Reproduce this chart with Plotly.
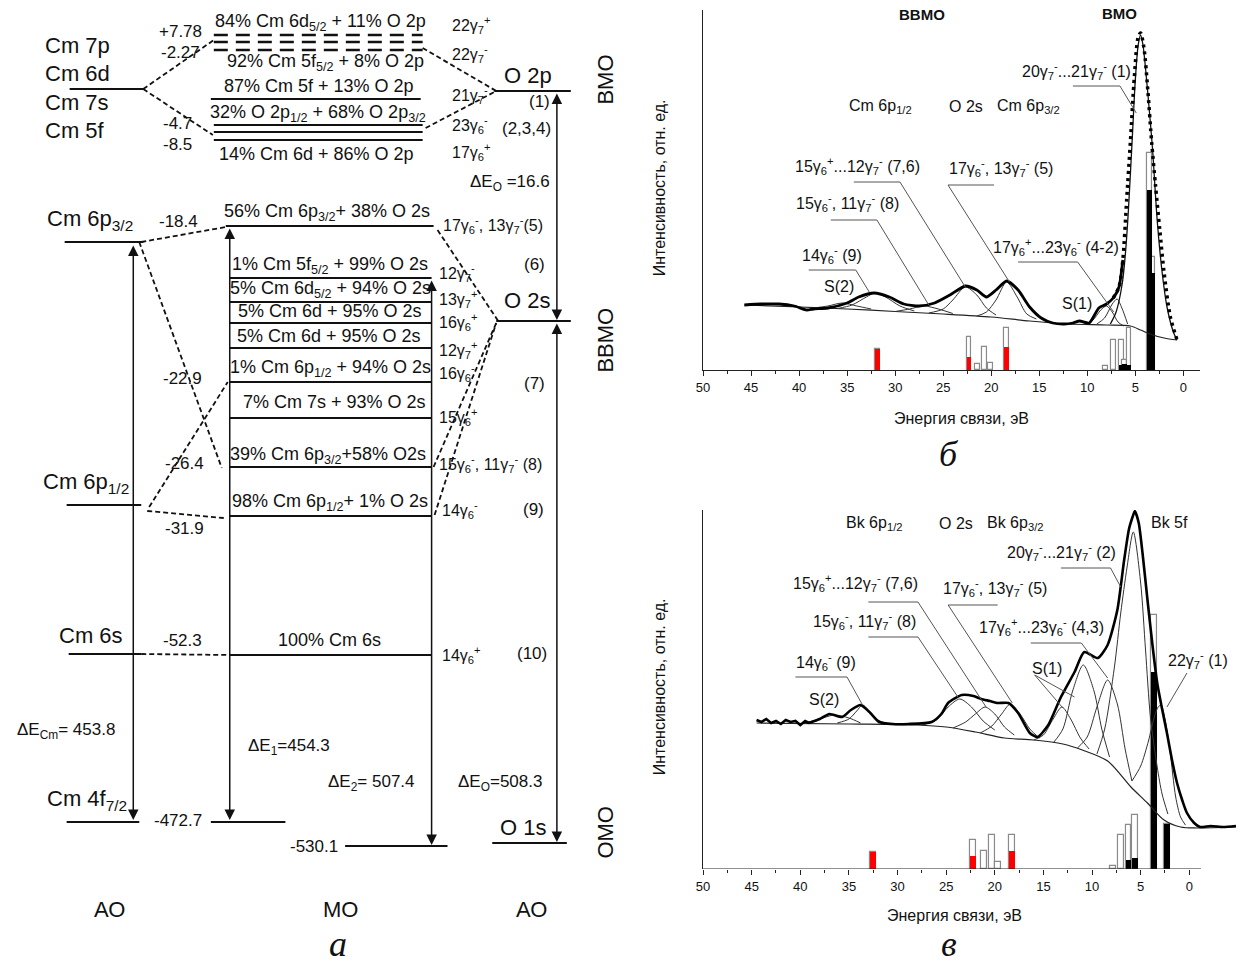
import plotly.graph_objects as go

W, H = 1243, 968
SANS = "Liberation Sans"
SERIF = "Liberation Serif"

# ======================= Panel б : CmO2 spectrum =======================
b_exp_e = [45.7, 44.0, 42.1, 40.5, 39.2, 38.5, 37.0, 35.0, 33.8, 32.2, 30.6, 29.1, 27.5, 25.9, 24.3,
           22.7, 21.5, 20.5, 19.5, 18.4, 17.2, 16.0, 14.8, 13.6, 12.4, 11.5, 10.8, 9.8, 8.8, 8.0,
           7.3, 6.7, 6.3, 5.9, 5.5, 5.1, 4.7, 4.45, 4.1, 3.7, 3.3, 2.9, 2.45, 2.0, 1.35, 0.65]
b_exp_i = [65, 66, 66, 64, 60, 61, 62, 67, 73, 77, 73, 66, 64, 67, 75,
           84, 80, 73, 80, 89, 80, 63, 52, 47, 46, 47, 49, 47, 62, 66,
           72, 83, 110, 170, 230, 293, 333, 337, 322, 280, 228, 185, 140, 97, 53, 30]
b_bg_e = [45.7, 40.0, 35.0, 30.0, 25.0, 20.0, 16.0, 12.0, 8.0, 5.5, 4.45, 3.5, 2.0, 0.65]
b_bg_i = [65, 63, 61, 58.5, 56, 53, 49, 46, 45, 44, 40, 36, 32, 30]
b_main_e = [7.6, 7.0, 6.35, 6.0, 5.7, 5.3, 5.0, 4.7, 4.45, 4.2, 3.9, 3.5, 3.2, 2.7, 2.2, 1.7, 1.0, 0.65]
b_main_i = [46, 58, 87, 120, 163, 235, 290, 325, 335, 325, 298, 255, 220, 147, 97, 63, 37, 30]
b_s2_e = [38.5, 37.0, 35.5, 34.0, 32.5]
b_s2_i = [62, 64, 67, 64, 61]
b_p9_e = [36.0, 34.5, 33.0, 32.1, 31.0, 29.5, 28.0]
b_p9_i = [61.5, 65, 73, 77, 73, 64, 59]
b_p8_e = [30.0, 28.5, 27.0, 25.5, 24.0]
b_p8_i = [58.5, 61, 64, 61, 56.5]
b_p76_e = [26.5, 25.0, 24.0, 22.7, 21.5, 20.5, 19.5]
b_p76_i = [57, 61, 70, 83, 75, 62, 55]
b_p5_e = [21.5, 20.5, 19.5, 18.4, 17.3, 16.3, 15.3]
b_p5_i = [54, 58, 70, 88, 73, 56, 51]
b_p42_e = [10.5, 9.5, 8.6, 8.0, 7.4, 6.8, 6.2]
b_p42_i = [45.5, 49, 60, 64, 58, 48, 44]
b_s1_e = [9.0, 8.2, 7.4, 6.9, 6.4, 5.8]
b_s1_i = [46, 52, 66, 71, 62, 46]
b_bar_e = [31.8, 22.3, 21.4, 20.7, 20.1, 18.4, 8.1, 7.3, 6.45, 6.1, 5.65, 3.5, 3.2]
b_bar_total = [21, 33, 6, 23, 7, 42, 4, 30, 30, 10, 42, 217, 113]
b_bar_fill = [21, 13, 0, 0, 0, 23, 0, 0, 5, 6, 5, 180, 97]
b_bar_kind = ["red", "red", "open", "open", "open", "red", "open", "open",
              "black", "black", "black", "black", "black"]
b_labels = ["<b>ВВМО</b>", "<b>ВМО</b>",
            "20γ<sub>7</sub><sup>-</sup>...21γ<sub>7</sub><sup>-</sup> (1)",
            "Cm 6p<sub>1/2</sub>", "O 2s", "Cm 6p<sub>3/2</sub>",
            "15γ<sub>6</sub><sup>+</sup>...12γ<sub>7</sub><sup>-</sup> (7,6)",
            "17γ<sub>6</sub><sup>-</sup>, 13γ<sub>7</sub><sup>-</sup> (5)",
            "15γ<sub>6</sub><sup>-</sup>, 11γ<sub>7</sub><sup>-</sup> (8)",
            "17γ<sub>6</sub><sup>+</sup>...23γ<sub>6</sub><sup>-</sup> (4-2)",
            "14γ<sub>6</sub><sup>-</sup> (9)", "S(2)", "S(1)"]

# ======================= Panel в : BkO2 spectrum =======================
c_exp_e = [44.5, 44.0, 43.5, 43.0, 42.5, 42.0, 41.5, 41.0, 40.5, 40.0,
           39.5, 39.1, 38.0, 37.0, 35.7, 34.8, 33.8, 32.8, 31.9, 30.5,
           28.9, 26.5, 25.5, 24.8, 23.4, 22.2, 21.4, 20.5, 19.7, 18.6,
           17.6, 16.4, 15.6, 14.5, 13.2, 11.8, 10.8, 9.4, 8.4, 7.4,
           6.7, 6.2, 5.8, 5.6, 5.2, 4.8, 4.3, 3.8, 3.3, 2.8,
           2.3, 1.8, 1.26, 0.7, 0.24, -0.5, -1.1, -2.2, -3.5, -4.8]
c_exp_i = [149, 147, 150, 146, 148, 145, 149, 147, 148, 144,
           148, 146, 150, 155, 152, 159, 164, 156, 147, 145,
           145, 147, 155, 166, 174, 173, 170, 168, 166, 166,
           156, 136, 132, 144, 172, 197, 217, 211, 224, 259,
           309, 340, 353, 358, 346, 315, 269, 225, 186, 160,
           136, 110, 86, 68, 56, 46, 42, 43, 42, 43]
c_bg_e = [44.5, 35.0, 28.0, 25.0, 22.0, 19.0, 16.0, 13.0, 11.0, 8.4, 6.0, 4.3, 2.6, 0.9, -0.8, -4.8]
c_bg_i = [146, 145, 144, 142, 137, 131, 129, 125, 119, 108, 82, 66, 49, 42, 41, 42]
c_s2_e = [39.5, 38.0, 36.5, 35.0, 33.8]
c_s2_i = [146, 150, 154, 151, 146]
c_p9_e = [36.2, 35.0, 34.2, 33.6, 32.8, 32.0, 31.0]
c_p9_i = [146, 150, 158, 164, 157, 149, 145]
c_p8_e = [27.5, 26.0, 24.8, 23.6, 22.4, 21.2, 20.0]
c_p8_i = [144, 149, 162, 170, 162, 148, 139]
c_p76_e = [24.3, 23.0, 22.0, 21.0, 20.0, 19.0, 18.0]
c_p76_i = [141, 147, 155, 162, 155, 142, 134]
c_p5_e = [21.5, 20.3, 19.3, 18.4, 17.4, 16.4, 15.4]
c_p5_i = [136, 143, 155, 165, 155, 140, 131]
c_s1_e = [16.0, 15.0, 14.0, 13.1, 12.2, 11.2, 10.3]
c_s1_i = [129, 134, 150, 162, 150, 131, 120]
c_p4_e = [14.0, 13.0, 12.0, 10.9, 9.8, 9.0, 8.2]
c_p4_i = [126, 140, 178, 204, 178, 140, 112]
c_p3_e = [11.5, 10.5, 9.5, 8.4, 7.4, 6.6, 5.9]
c_p3_i = [121, 132, 162, 189, 165, 120, 88]
c_p2_e = [9.5, 8.7, 7.7, 7.05, 6.4, 5.76, 5.0, 4.5, 4.0, 3.3, 2.8, 2.2]
c_p2_i = [115, 140, 202, 256, 302, 337, 286, 219, 152, 102, 75, 55]
c_p1_e = [5.9, 5.0, 4.2, 3.6, 3.2, 2.9, 2.5, 2.0, 1.4, 0.9, 0.4]
c_p1_i = [88, 103, 128, 152, 162, 164, 150, 119, 72, 52, 44]
c_bar_e = [32.5, 22.2, 21.1, 20.3, 19.7, 18.2, 7.85, 7.05, 6.25, 5.55, 3.6, 2.3]
c_bar_total = [17, 29, 18, 34, 7, 34, 3, 34, 44, 54, 254, 45]
c_bar_fill = [17, 13, 0, 0, 0, 18, 0, 0, 9, 11, 197, 45]
c_bar_kind = ["red", "red", "open", "open", "open", "red", "open", "open",
              "black", "black", "black", "black"]
c_labels = ["<b>ВВМО</b>", "<b>ВМО</b>",
            "Bk 6p<sub>1/2</sub>", "O 2s", "Bk 6p<sub>3/2</sub>", "Bk 5f",
            "20γ<sub>7</sub><sup>-</sup>...21γ<sub>7</sub><sup>-</sup> (2)",
            "15γ<sub>6</sub><sup>+</sup>...12γ<sub>7</sub><sup>-</sup> (7,6)",
            "17γ<sub>6</sub><sup>-</sup>, 13γ<sub>7</sub><sup>-</sup> (5)",
            "15γ<sub>6</sub><sup>-</sup>, 11γ<sub>7</sub><sup>-</sup> (8)",
            "17γ<sub>6</sub><sup>+</sup>...23γ<sub>6</sub><sup>-</sup> (4,3)",
            "S(1)", "14γ<sub>6</sub><sup>-</sup> (9)", "S(2)",
            "22γ<sub>7</sub><sup>-</sup> (1)"]

tick_vals = [50, 45, 40, 35, 30, 25, 20, 15, 10, 5, 0]
minor_vals = [47.5, 42.5, 37.5, 32.5, 27.5, 22.5, 17.5, 12.5, 7.5, 2.5]

# ======================= Panel а : MO diagram texts =======================
ao_labels = ["Cm 7p", "Cm 6d", "Cm 7s", "Cm 5f", "Cm 6p<sub>3/2</sub>", "Cm 6p<sub>1/2</sub>",
             "Cm 6s", "Cm 4f<sub>7/2</sub>", "O 2p", "O 2s", "O 1s"]
mo_energies = ["+7.78", "-2.27", "-4.7", "-8.5", "-18.4", "-22.9", "-26.4", "-31.9",
               "-52.3", "-472.7", "-530.1"]
mo_compositions = ["84% Cm 6d<sub>5/2</sub> + 11% O 2p", "92% Cm 5f<sub>5/2</sub> + 8% O 2p",
                   "87% Cm 5f + 13% O 2p", "32% O 2p<sub>1/2</sub> + 68% O 2p<sub>3/2</sub>",
                   "14% Cm 6d + 86% O 2p", "56% Cm 6p<sub>3/2</sub>+ 38% O 2s",
                   "1% Cm 5f<sub>5/2</sub> + 99% O 2s", "5% Cm 6d<sub>5/2</sub> + 94% O 2s",
                   "5% Cm 6d + 95% O 2s", "5% Cm 6d + 95% O 2s",
                   "1% Cm 6p<sub>1/2</sub> + 94% O 2s", "7% Cm 7s + 93% O 2s",
                   "39% Cm 6p<sub>3/2</sub>+58% O2s", "98% Cm 6p<sub>1/2</sub>+ 1% O 2s",
                   "100% Cm 6s"]
mo_symmetry = ["22γ<sub>7</sub><sup>+</sup>", "22γ<sub>7</sub><sup>-</sup>", "21γ<sub>7</sub><sup>-</sup>",
               "23γ<sub>6</sub><sup>-</sup>", "17γ<sub>6</sub><sup>+</sup>",
               "17γ<sub>6</sub><sup>-</sup>, 13γ<sub>7</sub><sup>-</sup>(5)",
               "12γ<sub>7</sub><sup>-</sup>", "13γ<sub>7</sub><sup>+</sup>", "16γ<sub>6</sub><sup>+</sup>",
               "12γ<sub>7</sub><sup>+</sup>", "16γ<sub>6</sub><sup>-</sup>", "15γ<sub>6</sub><sup>+</sup>",
               "15γ<sub>6</sub><sup>-</sup>, 11γ<sub>7</sub><sup>-</sup> (8)",
               "14γ<sub>6</sub><sup>-</sup>", "14γ<sub>6</sub><sup>+</sup>"]
peak_numbers = ["(1)", "(2,3,4)", "(6)", "(7)", "(9)", "(10)"]
delta_labels = ["ΔE<sub>O</sub> =16.6", "ΔE<sub>Cm</sub>= 453.8", "ΔE<sub>1</sub>=454.3",
                "ΔE<sub>2</sub>= 507.4", "ΔE<sub>O</sub>=508.3"]
region_labels = ["ВМО", "ВВМО", "ОМО"]
column_labels = ["АО", "МО", "АО"]

# ---------------- schematic layout of panel а (pixel positions) ----------------
lay_ao = [(36, 45), (36, 73), (36, 102), (36, 130), (38, 220), (34, 483), (50, 635), (38, 800),
          (498, 75), (498, 300), (494, 827)]
lay_energy = [(198, 31), (196, 52), (188, 123), (188, 144), (194, 221), (198, 378), (200, 463),
              (200, 528), (198, 640), (198, 820), (335, 846)]
lay_comp = [(315, 22), (320, 62), (314, 86), (313, 113), (311, 154), (322, 212), (325, 265),
            (325, 289), (325, 311), (324, 336), (325, 368), (329, 402), (323, 455), (325, 502),
            (324, 640)]
lay_sym = [(446, 25), (446, 54), (446, 95), (446, 125), (446, 152), (436, 225), (432, 273),
           (432, 299), (432, 322), (432, 350), (432, 373), (432, 417), (432, 464), (435, 510),
           (435, 655)]
lay_peaknum = [(536, 101), (522, 128), (530, 264), (530, 383), (529, 509), (528, 653)]
lay_delta = [(464, 183), (8, 731), (240, 747), (321, 783), (452, 783)]
lay_region = [(601, 80), (601, 340), (601, 832)]
lay_column = [(103, 909), (335, 909), (527, 909)]
lay_levels = [(63, 137, 89), (205, 416, 99), (208, 418, 125), (208, 418, 132), (208, 418, 140),
              (490, 567, 91), (492, 567, 321), (488, 563, 843), (58, 137, 242), (220, 429, 226),
              (224, 427, 278), (224, 427, 302), (224, 427, 323), (224, 427, 348), (224, 427, 382),
              (224, 427, 418), (224, 427, 467), (224, 427, 516), (224, 427, 655),
              (60, 135, 505), (62, 135, 654), (60, 133, 822), (205, 280, 822), (340, 443, 846)]
lay_levels_dashed = [(208, 418, 35), (208, 418, 42), (208, 418, 50)]
lay_connectors = [((137, 89), (208, 40)), ((137, 89), (207, 135)), ((418, 48), (492, 91)),
                  ((421, 128), (492, 91)), ((135, 242), (220, 227)), ((133, 242), (216, 468)),
                  ((143, 507), (222, 382)), ((141, 511), (218, 518)), ((135, 654), (224, 655)),
                  ((433, 230), (494, 321)), ((429, 467), (492, 323)), ((430, 515), (492, 323))]
lay_arrows = [(127, 244, 820), (224, 227, 820), (427, 279, 845), (553, 92, 320), (553, 322, 842)]

fig = go.Figure()


def P(px, py):
    return px / W, 1 - py / H


def segs(items):
    xs, ys = [], []
    for (x0, y0), (x1, y1) in items:
        xs += [x0, x1, None]
        ys += [y0, y1, None]
    return xs, ys


# ---------- panel а drawing ----------
xs, ys = segs([((a, y), (b, y)) for a, b, y in lay_levels])
fig.add_trace(go.Scatter(x=xs, y=ys, xaxis="x3", yaxis="y3", mode="lines",
                         line=dict(color="#111", width=2)))
xs, ys = segs([((a, y), (b, y)) for a, b, y in lay_levels_dashed])
fig.add_trace(go.Scatter(x=xs, y=ys, xaxis="x3", yaxis="y3", mode="lines",
                         line=dict(color="#111", width=2.5, dash="14px,8px")))
xs, ys = segs(lay_connectors)
fig.add_trace(go.Scatter(x=xs, y=ys, xaxis="x3", yaxis="y3", mode="lines",
                         line=dict(color="#111", width=1.8, dash="5px,3px")))

ann = []


def txt(text, x, y, size, xref="x3", yref="y3", xanchor="center", angle=0, family=SANS,
        color="#111", yanchor="middle"):
    ann.append(dict(text=text, x=x, y=y, xref=xref, yref=yref, xanchor=xanchor,
                    yanchor=yanchor, showarrow=False, textangle=angle,
                    font=dict(family=family, size=size, color=color)))


for t, (x, y) in zip(ao_labels, lay_ao):
    txt(t, x, y, 22, xanchor="left")
for t, (x, y) in zip(mo_energies, lay_energy):
    txt(t, x, y, 17, xanchor="right")
for t, (x, y) in zip(mo_compositions, lay_comp):
    txt(t, x, y, 18)
for t, (x, y) in zip(mo_symmetry, lay_sym):
    txt(t, x, y, 16, xanchor="left")
for t, (x, y) in zip(peak_numbers, lay_peaknum):
    txt(t, x, y, 17)
for t, (x, y) in zip(delta_labels, lay_delta):
    txt(t, x, y, 17, xanchor="left")
for t, (x, y) in zip(region_labels, lay_region):
    txt(t, x, y, 22, angle=-90)
for t, (x, y) in zip(column_labels, lay_column):
    txt(t, x, y, 22)
for x, y0, y1 in lay_arrows:
    ann.append(dict(x=x, y=y1, ax=x, ay=y0, xref="x3", yref="y3", axref="x3", ayref="y3",
                    text="", showarrow=True, arrowhead=2, arrowside="end+start",
                    arrowsize=1.4, arrowwidth=1.5, arrowcolor="#111", standoff=0,
                    startstandoff=0))


# ---------- spectra ----------
def curve(xv, yv, ax, width, color="#222", dash=None, shape="spline", smoothing=0.8):
    ln = dict(color=color, width=width, dash=dash, shape=shape)
    if shape == "spline":
        ln["smoothing"] = smoothing
    fig.add_trace(go.Scatter(x=xv, y=yv, xaxis=ax[0], yaxis=ax[1], mode="lines", line=ln))


def bars(e, total, fill, kind, ax, width):
    fig.add_trace(go.Bar(x=e, y=total, xaxis=ax[0], yaxis=ax[1], width=width,
                         marker=dict(color="white", line=dict(color="#8a8a8a", width=1.2))))
    cols = {"red": "#ff0000", "black": "#000000", "open": "rgba(0,0,0,0)"}
    fig.add_trace(go.Bar(x=e, y=fill, xaxis=ax[0], yaxis=ax[1], width=width,
                         marker=dict(color=[cols[k] for k in kind], line=dict(width=0))))


AB = ("x", "y")
AC = ("x2", "y2")

bars(b_bar_e, b_bar_total, b_bar_fill, b_bar_kind, AB, 0.5)
bars(c_bar_e, c_bar_total, c_bar_fill, c_bar_kind, AC, 0.6)

curve(b_bg_e, b_bg_i, AB, 1.2)
for ex, iy in [(b_s2_e, b_s2_i), (b_p9_e, b_p9_i), (b_p8_e, b_p8_i), (b_p76_e, b_p76_i),
               (b_p5_e, b_p5_i), (b_p42_e, b_p42_i), (b_s1_e, b_s1_i)]:
    curve(ex, iy, AB, 1.0, color="#333")
curve(b_main_e, b_main_i, AB, 1.3, color="#111")
thick = [(e, i) for e, i in zip(b_exp_e, b_exp_i) if e >= 6.3]
dots = [(e, i) for e, i in zip(b_exp_e, b_exp_i) if e <= 7.3]
curve([p[0] for p in thick], [p[1] for p in thick], AB, 2.8, color="#000", smoothing=0.6)
curve([p[0] for p in dots], [p[1] for p in dots], AB, 3.5, color="#000", dash="3px,4px")

curve(c_bg_e, c_bg_i, AC, 1.2)
for ex, iy in [(c_s2_e, c_s2_i), (c_p9_e, c_p9_i), (c_p8_e, c_p8_i), (c_p76_e, c_p76_i),
               (c_p5_e, c_p5_i), (c_s1_e, c_s1_i), (c_p4_e, c_p4_i), (c_p3_e, c_p3_i),
               (c_p2_e, c_p2_i), (c_p1_e, c_p1_i)]:
    curve(ex, iy, AC, 1.0, color="#333")
noisy = [(e, i) for e, i in zip(c_exp_e, c_exp_i) if e >= 39.1]
smooth = [(e, i) for e, i in zip(c_exp_e, c_exp_i) if e <= 39.1]
curve([p[0] for p in noisy], [p[1] for p in noisy], AC, 2.6, color="#000", shape="linear")
curve([p[0] for p in smooth], [p[1] for p in smooth], AC, 2.6, color="#000", smoothing=0.6)

# labels on spectra (data coordinates: eV, intensity)
lay_b_lab = [(27.2, 356), (6.6, 357), (11.1, 299), (31.5, 264), (22.6, 264), (16.1, 264),
             (33.9, 204), (19.0, 202), (35.0, 167), (13.3, 123), (36.6, 115), (35.8, 84),
             (11.1, 67)]
lay_c_lab = [(30.4, 390), (7.5, 391), (32.4, 346), (24.0, 346), (17.9, 346), (2.0, 347),
             (13.1, 317), (34.3, 286), (20.0, 281), (33.4, 248), (15.2, 242), (14.6, 201),
             (37.4, 207), (37.6, 170), (-0.9, 209)]
for t, (x, y) in zip(b_labels, lay_b_lab):
    txt(t, x, y, 15 if "<b>" in t else 16, xref="x", yref="y")
for t, (x, y) in zip(c_labels, lay_c_lab):
    txt(t, x, y, 15 if "<b>" in t else 16, xref="x2", yref="y2")

lay_b_lead = [[(11.5, 284), (6.6, 284), (4.9, 257)], [(34.3, 188), (29.5, 188), (22.7, 83)],
              [(19.7, 185), (24.5, 185), (18.1, 88)], [(36.7, 150), (31.9, 150), (26.5, 65)],
              [(17.2, 108), (11.0, 108), (7.25, 58)], [(39.0, 100), (34.1, 100), (32.7, 78)]]
lay_c_lead = [[(13.2, 301), (8.1, 301), (7.05, 282)], [(33.0, 267), (27.9, 267), (20.9, 162)],
              [(19.7, 264), (24.8, 264), (18.2, 166)], [(33.0, 232), (27.9, 232), (23.8, 172)],
              [(16.3, 226), (11.1, 226), (8.4, 191)], [(15.9, 194), (13.0, 161)],
              [(15.9, 194), (11.8, 172)], [(40.5, 192), (35.2, 192), (33.6, 164)],
              [(0.24, 196), (2.3, 162)]]
shapes = []
for leads, (xr, yr) in [(lay_b_lead, ("x", "y")), (lay_c_lead, ("x2", "y2"))]:
    for pts in leads:
        for (x0, y0), (x1, y1) in zip(pts[:-1], pts[1:]):
            shapes.append(dict(type="line", xref=xr, yref=yr, x0=x0, y0=y0, x1=x1, y1=y1,
                               line=dict(color="#555", width=1)))
shapes.append(dict(type="line", xref="x2", yref="y2", x0=50, y0=0, x1=-1.2, y1=0,
                   line=dict(color="#222", width=1.2)))

# axis titles and panel letters (pixel positions)
for py in (188, 687):
    x, y = P(656, py)
    txt("Интенсивность, отн. ед.", x, y, 16, xref="paper", yref="paper", angle=-90)
for px, py in ((960, 418), (953, 915)):
    x, y = P(px, py)
    txt("Энергия связи, эВ", x, y, 16, xref="paper", yref="paper")
for t, (px, py) in (("а", (333, 966)), ("б", (947, 476)), ("в", (947, 966))):
    x, y = P(px, py)
    txt("<i>" + t + "</i>", x, y, 36, xref="paper", yref="paper", family=SERIF,
        yanchor="bottom")

xcommon = dict(tickmode="array", tickvals=tick_vals, ticktext=[str(v) for v in tick_vals],
               ticks="outside", ticklen=5, tickwidth=1, tickcolor="#222",
               tickfont=dict(family=SANS, size=13, color="#111"), showgrid=False,
               zeroline=False,
               minor=dict(tickmode="array", tickvals=minor_vals, ticks="outside", ticklen=3,
                          tickcolor="#222", showgrid=False))
ycommon = dict(showline=True, linecolor="#222", linewidth=1.2, ticks="", showticklabels=False,
               showgrid=False, zeroline=False)

fig.update_layout(
    width=W, height=H, margin=dict(l=0, r=0, t=0, b=0),
    paper_bgcolor="white", plot_bgcolor="rgba(0,0,0,0)", showlegend=False,
    barmode="overlay", bargap=0,
    xaxis=dict(domain=[700 / W, 1200 / W], range=[50, 50 - 500 / 9.66], anchor="y",
               showline=True, linecolor="#222", linewidth=1.2, **xcommon),
    yaxis=dict(domain=[1 - 370 / H, 1 - 10 / H], range=[0, 360], anchor="x", **ycommon),
    xaxis2=dict(domain=[700 / W, 1240 / W], range=[50, 50 - 540 / 9.78], anchor="y2",
                showline=False, **xcommon),
    yaxis2=dict(domain=[1 - 869 / H, 1 - 510 / H], range=[0, 359], anchor="x2", **ycommon),
    xaxis3=dict(domain=[0, 640 / W], range=[0, 640], anchor="y3", visible=False),
    yaxis3=dict(domain=[0, 1], range=[H, 0], anchor="x3", visible=False),
    annotations=ann, shapes=shapes,
)

fig.write_html("out.html")
